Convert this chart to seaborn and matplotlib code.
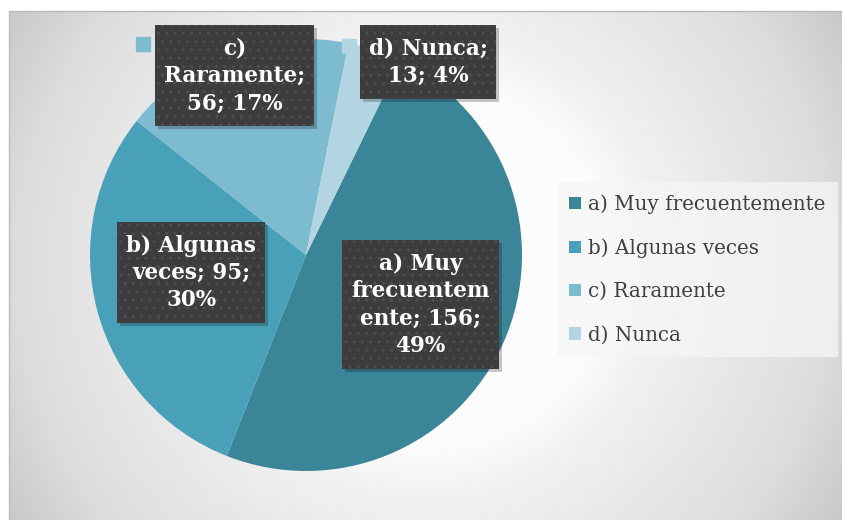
import numpy as np
import matplotlib
matplotlib.use('Agg')
import matplotlib.pyplot as plt
from matplotlib.patches import Rectangle
import seaborn as sns

# data
categories = ['a) Muy frecuentemente', 'b) Algunas veces', 'c) Raramente', 'd) Nunca']
values = [156, 95, 56, 13]
colors = sns.color_palette(['#3b8599', '#48a1b9', '#7dbbd0', '#b3d5e1'])

# label box centres, in pie-radius units
label_pos = [(0.53, -0.23), (-0.532, -0.083), (-0.329, 0.829), (0.565, 0.894)]
key_pos = {2: (-0.755, 0.977), 3: (0.199, 0.968)}


def wrap(s, width=10):
    # excel-like wrapping: long words go to a new line and get cut
    lines, cur = [], ''
    for w in s.split(' '):
        if cur and len(cur) + 1 + len(w) <= width:
            cur += ' ' + w
            continue
        if cur:
            lines.append(cur)
        while len(w) > width:
            lines.append(w[:width])
            w = w[width:]
        cur = w
    lines.append(cur)
    return '\n'.join(lines)


def percents(vals):
    # largest remainder, so the shares add up to 100
    raw = [v * 100 / sum(vals) for v in vals]
    out = [int(x) for x in raw]
    order = sorted(range(len(vals)), key=lambda i: raw[i] - out[i], reverse=True)
    for i in order[:100 - sum(out)]:
        out[i] += 1
    return out


sns.set_theme(style='white')
plt.rcParams['font.family'] = ['DejaVu Serif']

W, H = 842, 520
fig = plt.figure(figsize=(W / 100, H / 100), dpi=100)
fig.patch.set_facecolor('white')

# grey radial gradient background of the chart area
bg = fig.add_axes([0, 0, 1, 1])
xx, yy = np.meshgrid(np.arange(W), np.arange(H))
d = np.hypot(xx - 425, yy - 265)
g = np.interp(d, [0, 180, 236, 320, 405, 490, 560], [253, 252, 241, 231, 221, 200, 195]) / 255
img = np.dstack([g, g, g])
img[:11, :, :] = 1
img[:, :9, :] = 1
bg.imshow(img, extent=(0, W, H, 0), interpolation='bilinear')
bg.plot([9, W], [11, 11], color='#b8b8b8', lw=1)
bg.plot([9, 9], [11, H], color='#bdbdbd', lw=1)
bg.set_xlim(0, W)
bg.set_ylim(H, 0)
bg.axis('off')

# pie
cx, cy, r = 306, 255, 216
ax = fig.add_axes([(cx - r) / W, (H - cy - r) / H, 2 * r / W, 2 * r / H])
wedges, _ = ax.pie(values, colors=colors, startangle=64, counterclock=False,
                   radius=1, wedgeprops=dict(linewidth=0))
ax.set_xlim(-1, 1)
ax.set_ylim(-1, 1)
ax.axis('off')

pcts = percents(values)
labels = []
for i, (name, v) in enumerate(zip(categories, values)):
    if i in key_pos:
        kx, ky = key_pos[i]
        ax.plot(kx, ky, marker='s', ms=10, color=colors[i], zorder=4, clip_on=False)
    t = ax.text(label_pos[i][0], label_pos[i][1], wrap(f'{name}; {v}; {pcts[i]}%'),
                ha='center', va='center', fontsize=15.5, fontweight='bold',
                color='white', linespacing=1.32, clip_on=False, zorder=7)
    labels.append(t)

# dark dotted boxes with a soft shadow behind each label
fig.canvas.draw()
inv = ax.transData.inverted()
padx, pady = 9, 12
for t in labels:
    bb = t.get_window_extent()
    x0, y0 = inv.transform((bb.x0 - padx, bb.y0 - pady))
    x1, y1 = inv.transform((bb.x1 + padx, bb.y1 + pady))
    sx, sy = inv.transform((bb.x0 - padx + 3, bb.y0 - pady - 3)) - np.array([x0, y0])
    ax.add_patch(Rectangle((x0 + sx, y0 + sy), x1 - x0, y1 - y0, fc='black',
                           alpha=0.22, lw=0, zorder=5, clip_on=False))
    ax.add_patch(Rectangle((x0, y0), x1 - x0, y1 - y0, fc='#3d3d3d', ec='#4f4f4f',
                           lw=0, hatch='..', zorder=6, clip_on=False))

leg = ax.legend(wedges, categories, loc='upper left',
                bbox_to_anchor=(557 / W, 1 - 182 / H), bbox_transform=fig.transFigure,
                borderaxespad=0, frameon=True, fancybox=False, fontsize=14.3,
                handlelength=0.6, handleheight=0.6, handletextpad=0.35,
                labelspacing=1.22, borderpad=0.62)
leg.get_frame().set_facecolor('#f6f6f6')
leg.get_frame().set_alpha(0.75)
leg.get_frame().set_linewidth(0)
for txt in leg.get_texts():
    txt.set_color('#404040')

fig.savefig('out.png', dpi=100)
